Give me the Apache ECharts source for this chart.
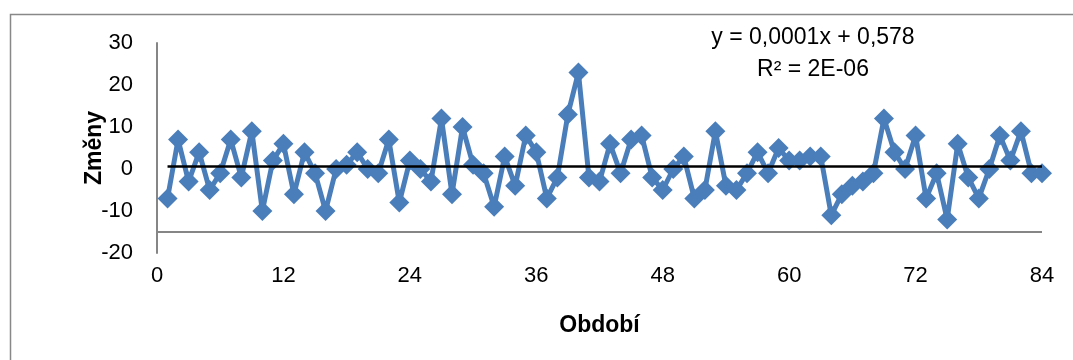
<!DOCTYPE html>
<html>
<head>
<meta charset="utf-8">
<script src="https://cdn.jsdelivr.net/npm/echarts@6/dist/echarts.min.js"></script>
<style>
html,body{margin:0;padding:0;background:#fff;}
#chart{width:1073px;height:360px;}
</style>
</head>
<body>
<div id="chart"></div>
<script>
// Periods (x values)
var periods = [];
for (var i = 1; i <= 84; i++) periods.push(i);
// Changes (y values)
var changes = [
  -7, 7, -3, 4, -5, -1, 7, -2, 9, -10,
  2, 6, -6, 4, -1, -10, 0, 1, 4, 0,
  -1, 7, -8, 2, 0, -3, 12, -6, 10, 1,
  -1, -9, 3, -4, 8, 4, -7, -2, 13, 23,
  -2, -3, 6, -1, 7, 8, -2, -5, 0, 3,
  -7, -5, 9, -4, -5, -1, 4, -1, 5, 2,
  2, 3, 3, -11, -6, -4, -3, -1, 12, 4,
  0, 8, -7, -1, -12, 6, -2, -7, 0, 8,
  2, 9, -1, -1
];
var xTicks = [0, 12, 24, 36, 48, 60, 72, 84];
var yTicks = [-20, -10, 0, 10, 20, 30];
var trendSlope = 0.0001, trendIntercept = 0.578;
var trendX = [1, 84];
var axisCrossY = -15;
var eqText = 'y = 0,0001x + 0,578';
var r2Text = 'R² = 2E-06';

var seriesData = periods.map(function (p, i) { return [p, changes[i]]; });
var trendData = trendX.map(function (x) { return [x, trendSlope * x + trendIntercept]; });

var FONT = 'Liberation Sans';
var chart = echarts.init(document.getElementById('chart'), null, {renderer: 'canvas'});
chart.setOption({
  animation: false,
  backgroundColor: '#fff',
  grid: {left: 157, right: 31, top: 43, bottom: 107},
  xAxis: {
    type: 'value', min: xTicks[0], max: xTicks[xTicks.length - 1], interval: 12,
    name: 'Období', nameLocation: 'middle', nameGap: 61, nameMoveOverlap: false,
    nameTextStyle: {fontFamily: FONT, fontSize: 23, fontWeight: 'bold', color: '#000'},
    axisLine: {show: false},
    axisTick: {show: false},
    splitLine: {show: false},
    axisLabel: {fontFamily: FONT, fontSize: 22, color: '#000', margin: 12}
  },
  yAxis: {
    type: 'value', min: yTicks[0], max: yTicks[yTicks.length - 1], interval: 10,
    name: 'Změny', nameLocation: 'middle', nameGap: 51, nameRotate: 90, nameMoveOverlap: false,
    nameTextStyle: {fontFamily: FONT, fontSize: 23, fontWeight: 'bold', color: '#000'},
    axisLine: {show: true, lineStyle: {color: '#868686', width: 2}},
    axisTick: {show: false},
    splitLine: {show: false},
    axisLabel: {fontFamily: FONT, fontSize: 22, color: '#000', margin: 24}
  },
  series: [
    {
      type: 'line', data: seriesData,
      symbol: 'diamond', symbolSize: 20,
      lineStyle: {color: '#4A7EBB', width: 5},
      itemStyle: {color: '#4A7EBB'},
      z: 3,
      markLine: {
        silent: true, symbol: 'none', label: {show: false},
        lineStyle: {color: '#868686', width: 2, type: 'solid'},
        data: [{yAxis: axisCrossY}],
        z: 1
      }
    },
    {
      type: 'line', data: trendData, symbol: 'none',
      lineStyle: {color: '#000', width: 2.5}, z: 4
    }
  ],
  graphic: [
    {type: 'rect', shape: {x: 10.5, y: 14.5, width: 1100, height: 400},
     style: {fill: 'none', stroke: '#888', lineWidth: 1.5}, z: -1, silent: true},
    {type: 'text', x: 813, y: 38, style: {text: eqText, fontFamily: FONT, fontSize: 23, fill: '#000', align: 'center', verticalAlign: 'middle'}},
    {type: 'text', x: 813, y: 70, style: {text: r2Text, fontFamily: FONT, fontSize: 23, fill: '#000', align: 'center', verticalAlign: 'middle'}}
  ]
});
</script>
</body>
</html>
